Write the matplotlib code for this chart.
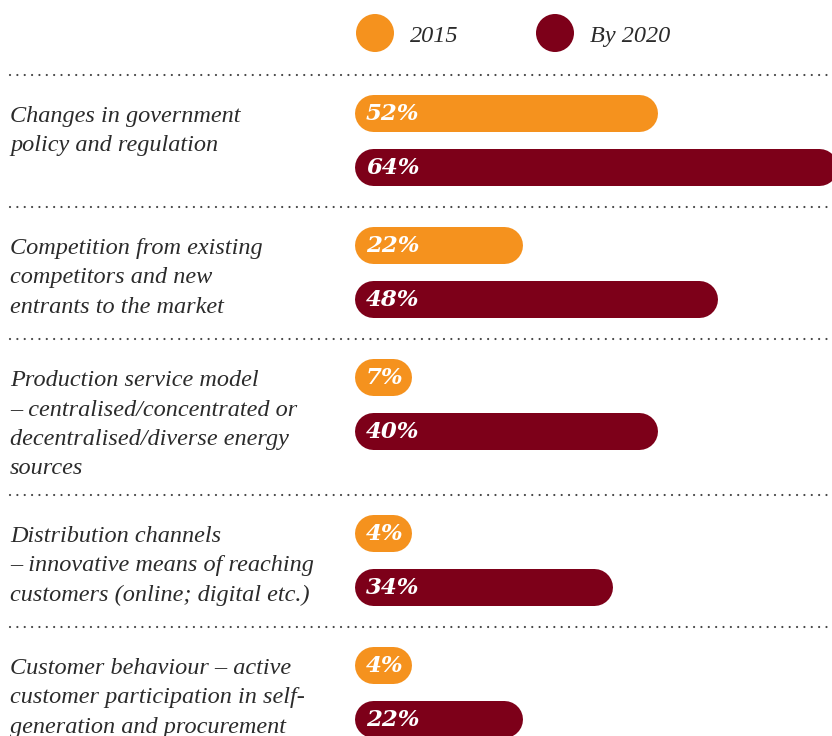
import matplotlib
matplotlib.use('Agg')
import matplotlib.pyplot as plt
from matplotlib.patches import Circle

# ---------------------------------------------------------------
# data
# ---------------------------------------------------------------
categories = [
    ["Changes in government", "policy and regulation"],
    ["Competition from existing", "competitors and new", "entrants to the market"],
    ["Production service model", "\u2013 centralised/concentrated or",
     "decentralised/diverse energy", "sources"],
    ["Distribution channels", "\u2013 innovative means of reaching",
     "customers (online; digital etc.)"],
    ["Customer behaviour \u2013 active", "customer participation in self-",
     "generation and procurement"],
]
series_names = ["2015", "By 2020"]
pct_2015 = [52, 22, 7, 4, 4]
pct_2020 = [64, 48, 40, 34, 22]
# bar lengths as drawn in the source graphic (52% bar is drawn at 40% length)
len_2015 = [40, 22, 7, 4, 4]
len_2020 = [64, 48, 40, 34, 22]

# ---------------------------------------------------------------
# style
# ---------------------------------------------------------------
W, H = 832, 736
c_2015 = '#F5921E'
c_2020 = '#7D0019'
c_text = '#2b2b2b'
txt_font = 'Liberation Serif'
lab_font = 'DejaVu Serif'

bar_h = 37          # px
px_per_pct = 7.5
bar_left_px = 354
zero_px = 357
min_edge = 7.2      # room for the label on tiny bars (pct units)
line_gap = 29.5

fig = plt.figure(figsize=(W / 100, H / 100), dpi=100)
fig.patch.set_facecolor('white')

# background axes in pixel units for text, separators, legend
bg = fig.add_axes([0, 0, 1, 1])
bg.set_xlim(0, W)
bg.set_ylim(H, 0)
bg.axis('off')

# bar axes: x in percent
ax = fig.add_axes([bar_left_px / W, 0, 1 - bar_left_px / W, 1])
x_lo = (bar_left_px - zero_px) / px_per_pct
ax.set_xlim(x_lo, x_lo + (W - bar_left_px) / px_per_pct)
ax.set_ylim(H, 0)
ax.axis('off')

# ---------------------------------------------------------------
# legend
# ---------------------------------------------------------------
leg_x = [375, 555]
for cx, col, name in zip(leg_x, [c_2015, c_2020], series_names):
    bg.add_patch(Circle((cx, 33), 19, color=col, lw=0))
    bg.text(cx + 35, 42, name, fontsize=17.5, family=txt_font, style='italic',
            color=c_text, va='baseline', ha='left')

# ---------------------------------------------------------------
# groups
# ---------------------------------------------------------------
r = bar_h / 2 / px_per_pct
lw_pt = bar_h * 72 / 100
sep = 75
for i, lines in enumerate(categories):
    bg.plot([10, W], [sep, sep], color='#444444', lw=1.6,
            linestyle=(0, (0.01, 3.3)), dash_capstyle='round')

    for k, line in enumerate(lines):
        bg.text(10, sep + 47 + line_gap * k, line, fontsize=17.5, family=txt_font,
                style='italic', color=c_text, va='baseline', ha='left')

    for y, L, p, col in [(sep + 38, len_2015[i], pct_2015[i], c_2015),
                         (sep + 92, len_2020[i], pct_2020[i], c_2020)]:
        right = max(L, min_edge)
        ax.plot([x_lo + r, right - r], [y, y], color=col, lw=lw_pt,
                solid_capstyle='round')
        ax.text(x_lo + 12 / px_per_pct, y + 1, f"{p}%", fontsize=16.5,
                family=lab_font, style='italic', weight='bold',
                color='white', va='center', ha='left')

    sep += 156 if len(lines) > 3 else 132

fig.savefig('out.png', dpi=100, facecolor='white')
